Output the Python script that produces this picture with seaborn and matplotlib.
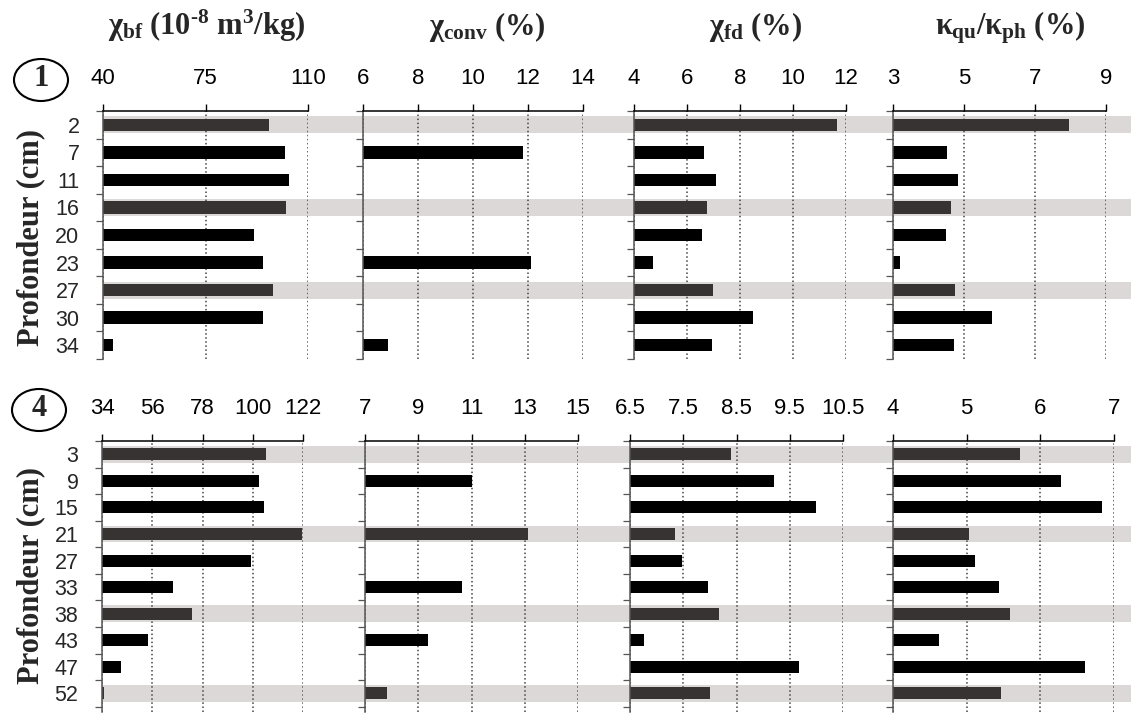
import numpy as np
import pandas as pd
import matplotlib
matplotlib.use('Agg')
import matplotlib.pyplot as plt
from matplotlib.patches import Ellipse
import seaborn as sns

# depths (cm) for the two profiles
depth_1 = [2, 7, 11, 16, 20, 23, 27, 30, 34]
depth_4 = [3, 9, 15, 21, 27, 33, 38, 43, 47, 52]
highlight_1 = [2, 16, 27]
highlight_4 = [3, 21, 38, 52]

# profile 1 values
chi_bf_1 = [96.6, 102.3, 103.6, 102.6, 91.4, 94.8, 98.0, 94.8, 43.4]
chi_conv_1 = [np.nan, 11.8, np.nan, np.nan, np.nan, 12.1, np.nan, np.nan, 6.9]
chi_fd_1 = [11.65, 6.64, 7.1, 6.77, 6.57, 4.7, 6.99, 8.5, 6.96]
kappa_1 = [7.97, 4.53, 4.84, 4.62, 4.48, 3.21, 4.75, 5.8, 4.73]

# profile 4 values
chi_bf_4 = [106.0, 102.9, 104.8, 121.4, 99.1, 65.3, 73.3, 54.1, 42.4, 34.9]
chi_conv_4 = [np.nan, 11.0, np.nan, 13.14, np.nan, 10.65, np.nan, 9.38, np.nan, 7.84]
chi_fd_4 = [8.39, 9.2, 10.0, 7.35, 7.48, 7.96, 8.17, 6.76, 9.68, 8.0]
kappa_4 = [5.73, 6.28, 6.84, 5.03, 5.11, 5.44, 5.59, 4.62, 6.61, 5.47]

# x ticks per panel
ticks_1 = [[40, 75, 110], [6, 8, 10, 12, 14], [4, 6, 8, 10, 12], [3, 5, 7, 9]]
ticks_4 = [[34, 56, 78, 100, 122], [7, 9, 11, 13, 15], [6.5, 7.5, 8.5, 9.5, 10.5], [4, 5, 6, 7]]
tick_labels_4 = [['34', '56', '78', '100', '122'], ['7', '9', '11', '13', '15'],
                 ['6.5', '7.5', '8.5', '9.5', '10.5'], ['4', '5', '6', '7']]

titles = [r'$\chi_{\mathrm{bf}}$ (10$^{\text{-8}}$ m$^{\mathrm{3}}$/kg)',
          r'$\chi_{\mathrm{conv}}$ (%)',
          r'$\chi_{\mathrm{fd}}$ (%)',
          r'$\kappa_{\mathrm{qu}}$/$\kappa_{\mathrm{ph}}$ (%)']

sns.set_style('white')
plt.rcParams['font.family'] = ['Liberation Sans', 'DejaVu Sans']
plt.rcParams['mathtext.fontset'] = 'custom'
plt.rcParams['mathtext.rm'] = 'Liberation Serif:bold'
plt.rcParams['mathtext.it'] = 'Liberation Serif:bold'
plt.rcParams['mathtext.bf'] = 'Liberation Serif:bold'

W, H = 1131, 717
fig = plt.figure(figsize=(W / 100, H / 100), dpi=100)

BAND = '#dcd8d8'
DARK = '#383333'


def rect(x0, x1, y0, y1):
    return [x0 / W, 1 - y1 / H, (x1 - x0) / W, (y1 - y0) / H]


def draw_row(depths, hl, series, ticks, labels, xs, ytop, ybot, extra):
    n = len(depths)
    ylim = (n - 0.5 + extra, -0.5)
    # background axes for grey bands across the row
    bg = fig.add_axes(rect(xs[0][0], W, ytop, ybot), zorder=0)
    bg.set_ylim(*ylim)
    bg.set_xlim(0, 1)
    bg.axis('off')
    for i, d in enumerate(depths):
        if d in hl:
            bg.axhspan(i - 0.31, i + 0.31, color=BAND, lw=0)
    order = [str(d) for d in depths]
    for k, vals in enumerate(series):
        ax = fig.add_axes(rect(xs[k][0], xs[k][1], ytop, ybot), zorder=1)
        ax.set_facecolor('none')
        df = pd.DataFrame({'depth': order, 'value': vals,
                           'kind': ['hl' if d in hl else 'norm' for d in depths]})
        df = df.dropna()
        sns.barplot(data=df, x='value', y='depth', hue='kind', order=order,
                    palette={'hl': DARK, 'norm': 'black'}, orient='h',
                    width=0.45, dodge=False, legend=False, errorbar=None,
                    saturation=1, linewidth=0, ax=ax)
        ax.set_xlim(ticks[k][0], ticks[k][-1])
        ax.set_ylim(*ylim)
        ax.set_xticks(ticks[k])
        ax.set_xticklabels(labels[k] if labels else [str(t) for t in ticks[k]])
        ax.xaxis.tick_top()
        ax.tick_params(axis='x', direction='out', length=5, width=1, pad=11,
                       labelsize=16, colors='black', top=True, bottom=False)
        ax.grid(axis='x', linestyle=':', color='#444444', linewidth=1.1)
        ax.grid(axis='y', visible=False)
        ax.set_yticks(range(n))
        ax.set_yticks(np.arange(-0.5, n, 1.0), minor=True)
        ax.tick_params(axis='y', which='minor', direction='out', length=5,
                       width=0.9, left=True, color='#555555')
        ax.tick_params(axis='y', which='major', length=0, pad=17, labelsize=15.5)
        if k > 0:
            ax.set_yticklabels([])
        ax.set_xlabel('')
        ax.set_ylabel('')
        for s in ['right', 'bottom']:
            ax.spines[s].set_visible(False)
        ax.spines['top'].set_color('black')
        ax.spines['top'].set_linewidth(1.1)
        ax.spines['left'].set_color('#555555')
        ax.spines['left'].set_linewidth(1.1)


draw_row(depth_1, highlight_1, [chi_bf_1, chi_conv_1, chi_fd_1, kappa_1],
         ticks_1, None, [(103, 308), (363, 583), (634, 846), (893, 1106)],
         111, 359, 0.0)
draw_row(depth_4, highlight_4, [chi_bf_4, chi_conv_4, chi_fd_4, kappa_4],
         ticks_4, tick_labels_4, [(102, 303), (365, 578), (630, 843), (893, 1114)],
         441, 712, 0.2)

# column headings
for t, x in zip(titles, [207, 487, 756, 1010]):
    fig.text(x / W, 1 - 35 / H, t, ha='center', va='baseline', fontsize=22,
             family='Liberation Serif', weight='bold')

# profile numbers in ellipses
for lab, cx, cy in [('1', 41, 80), ('4', 39, 410)]:
    fig.add_artist(Ellipse((cx / W, 1 - cy / H), 54 / W, 42 / H,
                           transform=fig.transFigure, fill=False,
                           edgecolor='black', lw=1.5))
    fig.text(cx / W, 1 - (cy - 1) / H, lab, ha='center', va='center', fontsize=22,
             family='Liberation Serif', weight='bold')

for cy in [237, 575]:
    fig.text(31 / W, 1 - cy / H, 'Profondeur (cm)', rotation=90, ha='center',
             va='center', fontsize=22, family='Liberation Serif', weight='bold')

plt.savefig('out.png', dpi=100)
